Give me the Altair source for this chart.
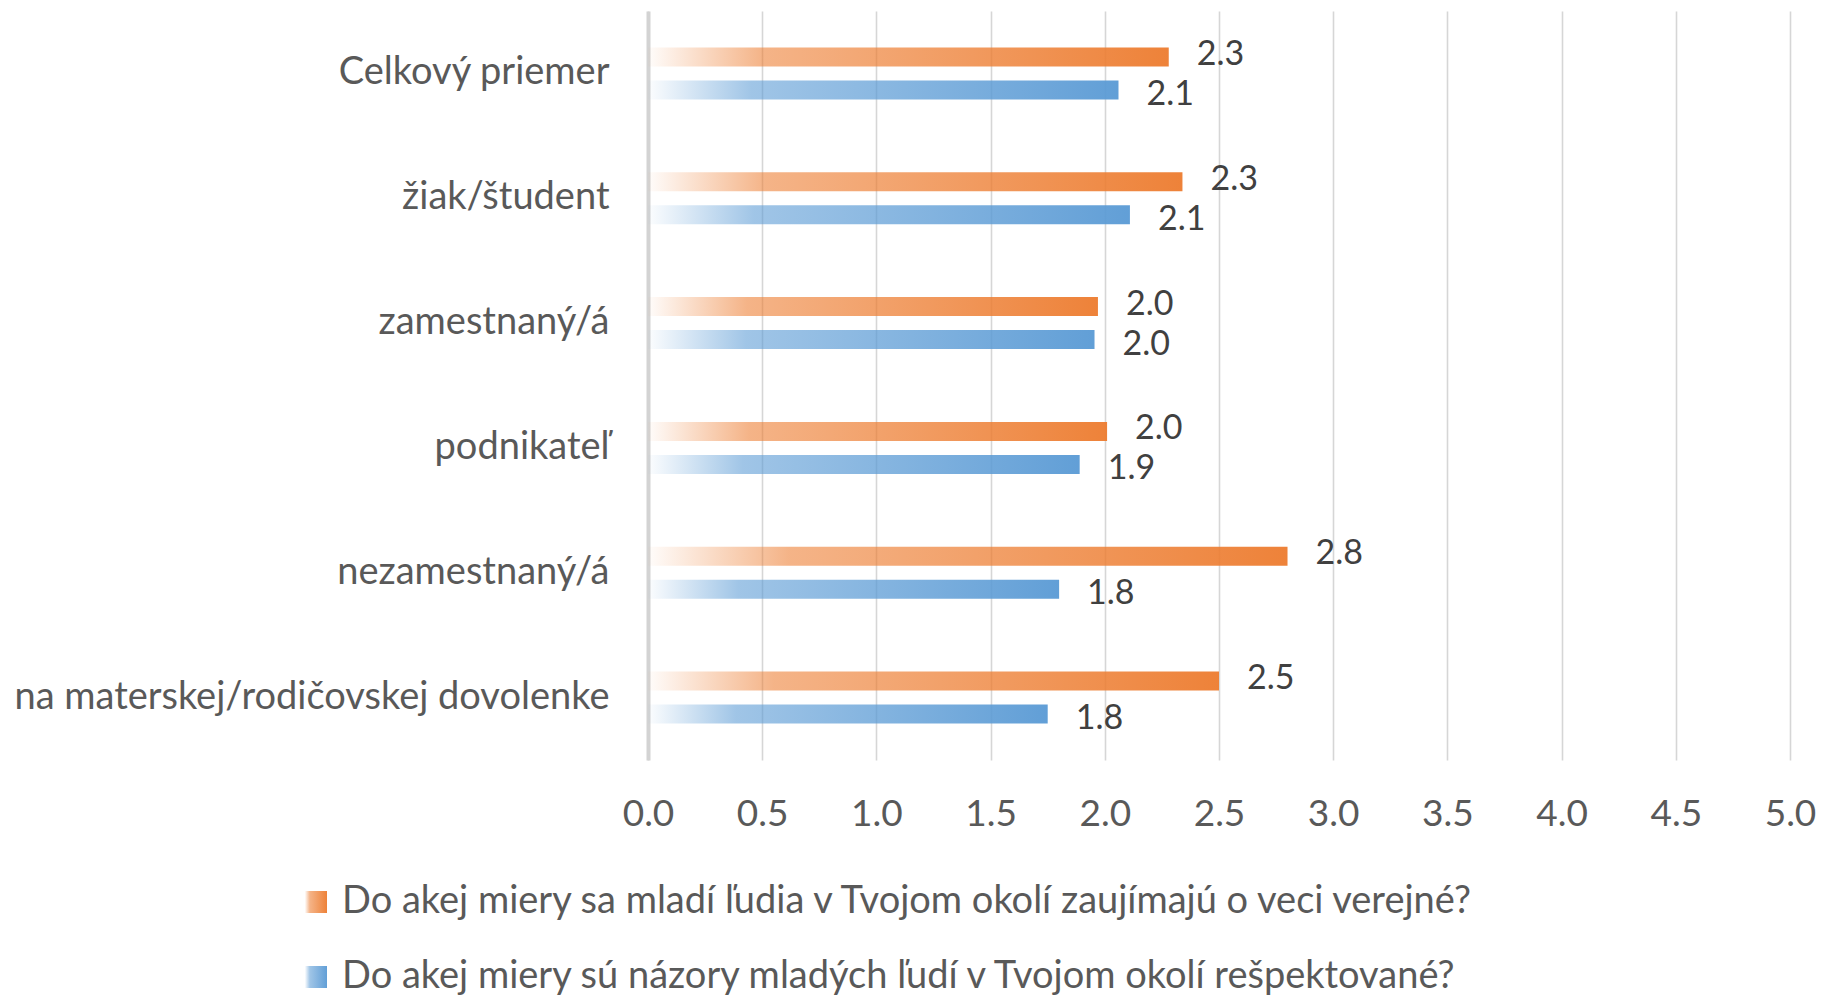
import altair as alt
import pandas as pd

categories = [
    "Celkový priemer",
    "žiak/študent",
    "zamestnaný/á",
    "podnikateľ",
    "nezamestnaný/á",
    "na materskej/rodičovskej dovolenke",
]
series_names = [
    "Do akej miery sa mladí ľudia v Tvojom okolí zaujímajú o veci verejné?",
    "Do akej miery sú názory mladých ľudí v Tvojom okolí rešpektované?",
]
interest_values = [2.28, 2.34, 1.97, 2.01, 2.80, 2.50]
respect_values = [2.06, 2.11, 1.955, 1.89, 1.80, 1.75]
x_ticks = [0.0, 0.5, 1.0, 1.5, 2.0, 2.5, 3.0, 3.5, 4.0, 4.5, 5.0]

rows = []
for c, v in zip(categories, interest_values):
    rows.append({"category": c, "series": series_names[0], "value": v})
for c, v in zip(categories, respect_values):
    rows.append({"category": c, "series": series_names[1], "value": v})
df = pd.DataFrame(rows)

FONT = "Lato"

orange_grad = (
    "{gradient: 'linear', x1: 0, y1: 0, x2: 1, y2: 0, stops: ["
    "{offset: 0, color: 'rgba(237,125,49,0.02)'},"
    "{offset: 0.22, color: 'rgba(237,125,49,0.58)'},"
    "{offset: 1, color: 'rgba(237,125,49,0.96)'}]}"
)
blue_grad = (
    "{gradient: 'linear', x1: 0, y1: 0, x2: 1, y2: 0, stops: ["
    "{offset: 0, color: 'rgba(91,155,213,0.02)'},"
    "{offset: 0.22, color: 'rgba(91,155,213,0.58)'},"
    "{offset: 1, color: 'rgba(91,155,213,0.96)'}]}"
)

y_enc = alt.Y(
    "category:N",
    sort=categories,
    title=None,
    scale=alt.Scale(paddingInner=0.583, paddingOuter=0.2915),
    axis=alt.Axis(
        labelFont=FONT,
        labelFontSize=38,
        labelColor="#595959",
        labelPadding=39,
        ticks=False,
        tickSize=0,
        domain=True,
        domainColor="#D3D3D3",
        domainWidth=4,
        grid=False,
        labelLimit=1000,
    ),
)
yoff_enc = alt.YOffset(
    "series:N",
    sort=series_names,
    scale=alt.Scale(domain=series_names, paddingInner=0.424, paddingOuter=0),
)
x_enc = alt.X(
    "value:Q",
    title=None,
    scale=alt.Scale(domain=[0, 5], nice=False, zero=True),
    axis=alt.Axis(
        values=x_ticks,
        format=".1f",
        labelFont=FONT,
        labelFontSize=37,
        labelColor="#595959",
        labelPadding=36,
        labelFlush=False,
        labelOverlap=False,
        ticks=False,
        tickSize=0,
        domain=False,
        grid=True,
        gridColor="#D6D6D6",
        gridWidth=1.6,
    ),
)

bars = alt.Chart(df).mark_bar().encode(
    x=x_enc,
    y=y_enc,
    yOffset=yoff_enc,
    fill=alt.Fill(
        "series:N",
        sort=series_names,
        scale=alt.Scale(
            domain=series_names,
            range=[alt.ExprRef(orange_grad), alt.ExprRef(blue_grad)],
        ),
        legend=alt.Legend(
            title=None,
            orient="none",
            legendX=-351,
            legendY=872,
            direction="vertical",
            symbolType="square",
            symbolSize=484,
            symbolStrokeWidth=0,
            labelFont=FONT,
            labelFontSize=38,
            labelColor="#595959",
            labelOffset=7,
            labelLimit=2000,
            rowPadding=37,
            padding=0,
        ),
    ),
)


def label_layer(series, dy):
    return (
        alt.Chart(df)
        .transform_filter(alt.datum.series == series)
        .mark_text(
            align="left",
            baseline="middle",
            dx=28,
            dy=dy,
            font=FONT,
            fontSize=34,
            color="#404040",
        )
        .encode(
            x=alt.X("value:Q"),
            y=alt.Y("category:N", sort=categories),
            yOffset=alt.YOffset("series:N", sort=series_names),
            text=alt.Text("value:Q", format=".1f"),
        )
    )


labels_top = label_layer(series_names[0], -2)
labels_bottom = label_layer(series_names[1], 5)

chart = (
    alt.layer(bars, labels_top, labels_bottom)
    .properties(
        width=1142,
        height=749,
        autosize="none",
        padding={"left": 640, "top": 3, "right": 28, "bottom": 240},
        background="white",
    )
    .configure_view(stroke=None)
)

chart.save("out.html", embed_options={"renderer": "svg", "actions": False})
